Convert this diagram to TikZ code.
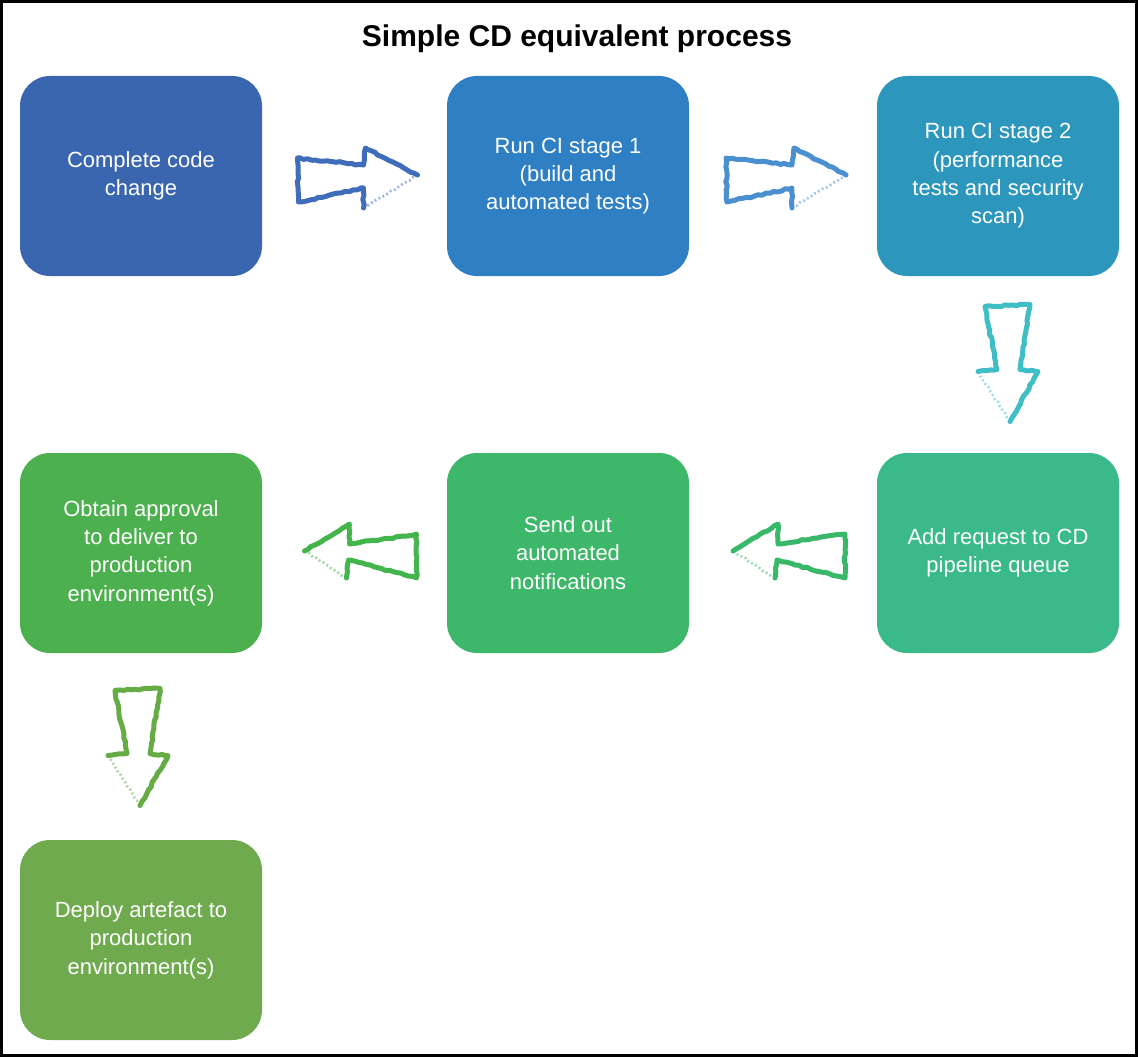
\documentclass[tikz,border=0pt]{standalone}
\usepackage{fontspec}
\setmainfont{Liberation Sans}
\usetikzlibrary{calc,decorations.pathmorphing}

% stage fills
\definecolor{fillA}{HTML}{3A66AF}
\definecolor{fillB}{HTML}{2E7FC4}
\definecolor{fillC}{HTML}{2D96BD}
\definecolor{fillD}{HTML}{3ABA8B}
\definecolor{fillE}{HTML}{3DB769}
\definecolor{fillF}{HTML}{4DB04F}
\definecolor{fillG}{HTML}{6FAA4E}
% arrow strokes
\definecolor{arrA}{HTML}{3F6DB9}
\definecolor{arrB}{HTML}{4A90D1}
\definecolor{arrC}{HTML}{40BEC6}
\definecolor{arrD}{HTML}{3AB86A}
\definecolor{arrE}{HTML}{44B44C}
\definecolor{arrF}{HTML}{66AC44}

\begin{document}
\begin{tikzpicture}[x=1pt,y=-1pt,
  stage/.style={rounded corners=30pt, minimum width=242pt, minimum height=200pt,
    inner sep=0pt, text=white, align=center,
    font=\fontsize{22}{28.3}\selectfont},
  sketch/.style={line width=5pt, line join=round, line cap=round,
    decorate, decoration={random steps, segment length=4pt, amplitude=0.8pt}},
  faint/.style={line width=2.6pt, dash pattern=on 2pt off 2.5pt, opacity=0.5,
    decorate, decoration={random steps, segment length=3pt, amplitude=0.8pt}},
  rarrow/.pic={
    \draw[sketch] (63,-1) -- (11,-28) -- (9,-11) -- (-57,-18) -- (-56,26) -- (9,12) -- (9,32);
    \draw[faint] (9,32) -- (63,-1);
  },
  larrow/.pic={
    \draw[sketch] (-50,-2) -- (-5,-29) -- (-5,-9) -- (62,-19) -- (62,25) -- (-6,7) -- (-8,25);
    \draw[faint] (-8,25) -- (-50,-2);
  },
  darrow/.pic={
    \draw[sketch] (-33,9) -- (-14,7) -- (-26,-56) -- (19,-58) -- (9,7) -- (27,9) -- (-1,59);
    \draw[faint] (-1,59) -- (-33,9);
  }
]
\useasboundingbox (0,0) rectangle (1138,1057);
\draw[line width=3pt] (1.5,1.5) rectangle (1136.5,1055.5);

\node[anchor=base, font=\fontsize{30}{36}\selectfont\bfseries] (title) at (577,47)
  {Simple CD equivalent process};

% process stages
\node[stage, fill=fillA] (b1) at (141,176) {Complete code\\change};
\node[stage, fill=fillB] (b2) at (568,176) {Run CI stage 1\\(build and\\automated tests)};
\node[stage, fill=fillC] (b3) at (998,176) {Run CI stage 2\\(performance\\tests and security\\scan)};
\node[stage, fill=fillD] (b4) at (998,553) {Add request to CD\\pipeline queue};
\node[stage, fill=fillE] (b5) at (568,553) {Send out\\automated\\notifications};
\node[stage, fill=fillF] (b6) at (141,553) {Obtain approval\\to deliver to\\production\\environment(s)};
\node[stage, fill=fillG] (b7) at (141,940) {Deploy artefact to\\production\\environment(s)};

% hand-drawn block arrows between stages
\pic[color=arrA] at ($(b1.east)!0.5!(b2.west)$) {rarrow};
\pic[color=arrB] at ($(b2.east)!0.5!(b3.west)$) {rarrow};
\pic[color=arrC] at ($($(b3.south)!0.5!(b4.north)$)+(13,-2)$) {darrow};
\pic[color=arrD] at ($(b4.west)!0.5!(b5.east)$) {larrow};
\pic[color=arrE] at ($(b5.west)!0.5!(b6.east)$) {larrow};
\pic[color=arrF] at ($(b6.south)!0.5!(b7.north)$) {darrow};
\end{tikzpicture}
\end{document}
